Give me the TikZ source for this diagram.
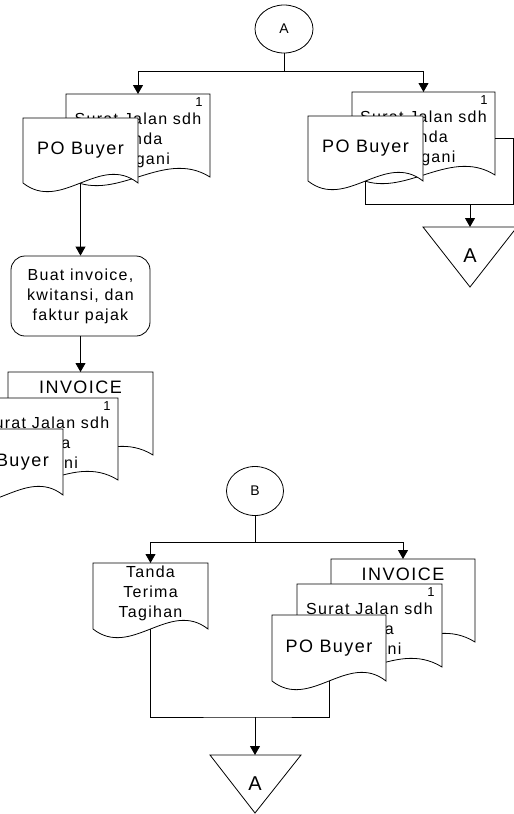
\documentclass[tikz,border=0pt]{standalone}
\usepackage{fontspec}
\setmainfont{Liberation Sans}[LetterSpace=8]
\usetikzlibrary{arrows.meta,shapes.geometric}
\makeatletter
\newdimen\dsxa \newdimen\dsxb \newdimen\dsya \newdimen\dsyb
\newdimen\dsw \newdimen\dsp \newdimen\dsq \newdimen\dsu \newdimen\dsv
\def\docwave{30pt}
\pgfdeclareshape{docshape}{
  \inheritsavedanchors[from=rectangle]
  \inheritanchorborder[from=rectangle]
  \inheritanchor[from=rectangle]{center}
  \inheritanchor[from=rectangle]{north}
  \inheritanchor[from=rectangle]{south}
  \inheritanchor[from=rectangle]{east}
  \inheritanchor[from=rectangle]{west}
  \inheritanchor[from=rectangle]{north east}
  \inheritanchor[from=rectangle]{north west}
  \inheritanchor[from=rectangle]{south east}
  \inheritanchor[from=rectangle]{south west}
  \inheritanchor[from=rectangle]{text}
  \inheritanchor[from=rectangle]{base}
  \inheritanchor[from=rectangle]{mid}
  \backgroundpath{%
    \southwest \dsxa=\pgf@x \dsya=\pgf@y
    \northeast \dsxb=\pgf@x \dsyb=\pgf@y
    \dsw=\dsxb \advance\dsw by -\dsxa \divide\dsw by 3
    \dsp=\dsxb \advance\dsp by -\dsw
    \dsq=\dsxa \advance\dsq by \dsw
    \dsu=\dsya \advance\dsu by \docwave
    \dsv=\dsya \advance\dsv by -\docwave
    \pgfpathmoveto{\pgfqpoint{\dsxa}{\dsya}}%
    \pgfpathlineto{\pgfqpoint{\dsxa}{\dsyb}}%
    \pgfpathlineto{\pgfqpoint{\dsxb}{\dsyb}}%
    \pgfpathlineto{\pgfqpoint{\dsxb}{\dsya}}%
    \pgfpathcurveto{\pgfqpoint{\dsp}{\dsu}}{\pgfqpoint{\dsq}{\dsv}}{\pgfqpoint{\dsxa}{\dsya}}%
    \pgfpathclose
  }
}
\makeatother
\begin{document}
\begin{tikzpicture}[x=1pt,y=-1pt,line width=0.8pt,
  doc/.style={docshape,draw,fill=white,inner sep=0pt,outer sep=0pt,align=center,
    font=\fontsize{16}{20}\selectfont},
  po/.style={doc,minimum width=115pt,minimum height=65pt,font=\fontsize{18}{22}\selectfont},
  sj/.style={doc,minimum width=144pt,minimum height=83pt,
    label={[anchor=north east,inner sep=0pt,xshift=-7pt,yshift=-3pt,font=\fontsize{13}{13}\selectfont]north east:1},
    label={[align=center,inner sep=0pt,yshift=-5pt,font=\fontsize{16}{20}\selectfont]center:{Surat Jalan sdh\\Tanda\\Tangani}}},
  inv/.style={doc,minimum width=145pt,minimum height=83pt,
    label={[anchor=north,inner sep=0pt,yshift=-9pt,font=\fontsize{18}{18}\selectfont]north:INVOICE}},
  conn/.style={ellipse,draw,fill=white,minimum width=58pt,minimum height=48pt,inner sep=0pt,
    font=\fontsize{14}{14}\selectfont},
  proc/.style={draw,fill=white,rounded corners=14pt,minimum width=139pt,minimum height=80pt,
    inner sep=0pt,align=center,font=\fontsize{16}{20}\selectfont},
  offtext/.style={inner sep=0pt,font=\fontsize{20}{20}\selectfont},
  arr/.style={-{Triangle[width=10pt,length=9pt]}}
]
\useasboundingbox (0,0) rectangle (514,814);
\clip (0,0) rectangle (514,814);

% ---------- coordinates ----------
\coordinate (jA) at (284,71);
\coordinate (jR) at (513.5,204);
\coordinate (mR) at (470,204);
\coordinate (t2top) at (470,227);
\coordinate (t2a) at (423,227);
\coordinate (t2b) at (517,227);
\coordinate (t2c) at (470,287);
\coordinate (jB) at (255,542);
\coordinate (jB2) at (255,717);
\coordinate (t3top) at (255,755);
\coordinate (t3a) at (210,755);
\coordinate (t3b) at (301,755);
\coordinate (t3c) at (255,813);

% ---------- nodes ----------
\node[conn] (A1) at (284,29) {A};
\node[sj] (sj1) at (138,135.5) {};
\node[po] (po1) at (80.5,150.5) {PO Buyer};
\node[sj,minimum width=143pt] (sj2) at (423.5,133.5) {};
\node[po] (po2) at (365.5,148.5) {PO Buyer};
\node[proc] (box1) at (80.5,296) {Buat invoice,\\kwitansi, dan\\faktur pajak};
\node[inv] (inv1) at (80.5,413.5) {};
\node[sj,minimum height=82pt] (sj3) at (46,439) {};
\node[po,minimum height=66pt] (po3) at (5.5,462) {PO Buyer};

\node[conn,minimum width=57pt,minimum height=49pt] (B1) at (255,491) {B};
\node[doc,minimum width=115pt,minimum height=66pt,
  label={[align=center,inner sep=0pt,yshift=3pt,font=\fontsize{16}{20}\selectfont]center:{Tanda\\Terima\\Tagihan}}]
  (ttt) at (150.5,596) {};
\node[inv,minimum width=144pt] (inv2) at (403,600.5) {};
\node[sj,minimum width=145pt] (sj4) at (369.5,625.5) {};
\node[po,minimum width=114pt,minimum height=66pt] (po4) at (329,648) {PO Buyer};

% off-page connectors
\draw (t2a) -- (t2b) -- (t2c) -- cycle;
\node[offtext] (offA1) at (470,256) {A};
\draw (t3a) -- (t3b) -- (t3c) -- cycle;
\node[offtext] (offA2) at (255,784) {A};

% ---------- connectors ----------
\draw (A1) -- (jA);
\draw[arr] (jA) -| (sj1.north);
\draw[arr] (jA) -| (sj2.north);
\draw[arr] (po1.south) -- (box1.north);
\draw[arr] (box1.south) -- (inv1.north);
\draw ([yshift=-5pt]sj2.east) -| (jR) -| (po2.south);
\draw[arr] (mR) -- (t2top);

\draw (B1) -- (jB);
\draw[arr] (jB) -| (ttt.north);
\draw[arr] (jB) -| (inv2.north);
\draw (ttt.south) |- (jB2) -| (po4.south);
\draw[arr] (jB2) -- (t3top);
\end{tikzpicture}
\end{document}
